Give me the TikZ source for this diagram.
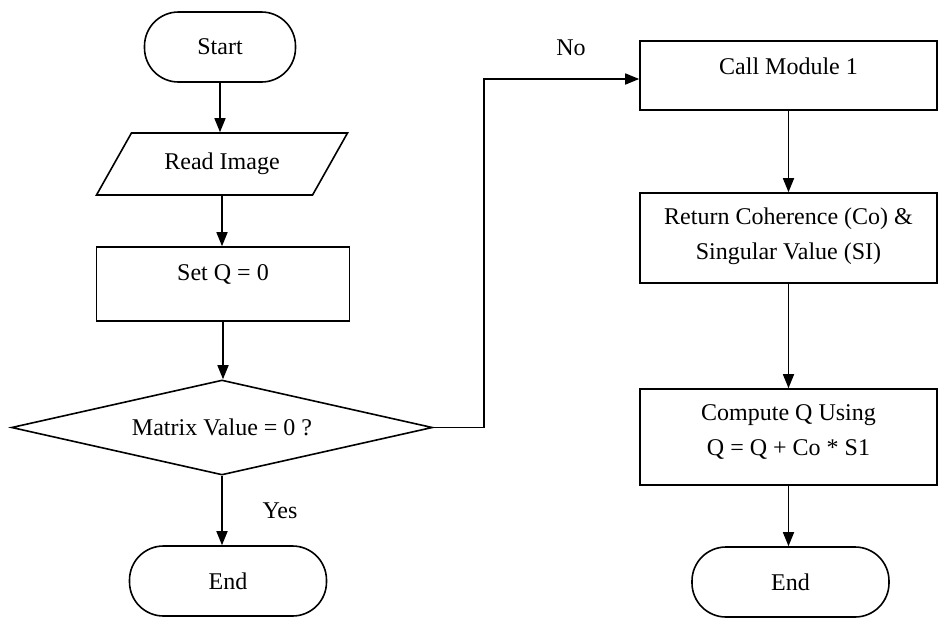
\documentclass[tikz,border=0pt]{standalone}
\usepackage{fontspec}
\setmainfont{Liberation Serif}
\usetikzlibrary{shapes.geometric,arrows.meta}

\begin{document}
\begin{tikzpicture}[x=0.5pt,y=-0.5pt,line width=0.8pt,
	font=\fontsize{12}{17.5}\selectfont,
	>={Triangle[length=7pt,width=5.5pt]},
	term/.style={draw,rectangle,rounded corners=17pt,inner sep=0pt,minimum width=98.5pt,minimum height=35pt},
	io/.style={draw,trapezium,trapezium left angle=32,trapezium right angle=148,trapezium stretches body=true,inner sep=0pt,minimum width=125.5pt,minimum height=31pt},
	proc/.style={draw,rectangle,inner sep=0pt,align=center,minimum width=148.5pt},
	dec/.style={draw,diamond,aspect=4.43,inner sep=0pt,minimum width=210.5pt,minimum height=47.5pt}]
	%\draw[help lines] (0,0) grid (938,617);
	\useasboundingbox (0,0) rectangle (938,617);

	\node[term,minimum width=75.5pt] (start) at (220,47) {Start};
	\node[io] (read) at (222,164) {Read Image};
	\node[proc,minimum width=126.5pt,minimum height=37pt,text height=9pt,text depth=13pt] (setq) at (223,284) {Set Q = 0};
	\node[dec] (dec) at (222,427.5) {Matrix Value = 0 ?};
	\node[term] (end1) at (228,581) {End};

	\node[proc,minimum height=34.5pt,text height=9pt,text depth=10.5pt] (call) at (788.5,75.5) {Call Module 1};
	\node[proc,minimum height=45pt,text height=26pt,text depth=5pt] (ret) at (788.5,238) {Return Coherence (Co) \&\\Singular Value (SI)};
	\node[proc,minimum height=48pt,text height=23pt,text depth=5pt] (comp) at (788.5,437) {Compute Q Using\\Q = Q + Co * S1};
	\node[term] (end2) at (790.5,582) {End};

	\node (no) at (571,48) {No};
	\node (yes) at (280,511) {Yes};
	\coordinate (nob) at (484,79);

	\path[->] (start.south) edge (start.south |- read.north);
	\path[->] (read.south) edge (read.south |- setq.north);
	\path[->] (setq.south) edge (setq.south |- dec.north);
	\path[->] (dec.south) edge (dec.south |- end1.north);
	\draw[->] (dec.east) -| (nob) -- (nob -| call.west);

	\path[->] (call) edge (ret);
	\path[->] (ret) edge (comp);
	\path[->] (comp.south) edge (comp.south |- end2.north);
\end{tikzpicture}
\end{document}
